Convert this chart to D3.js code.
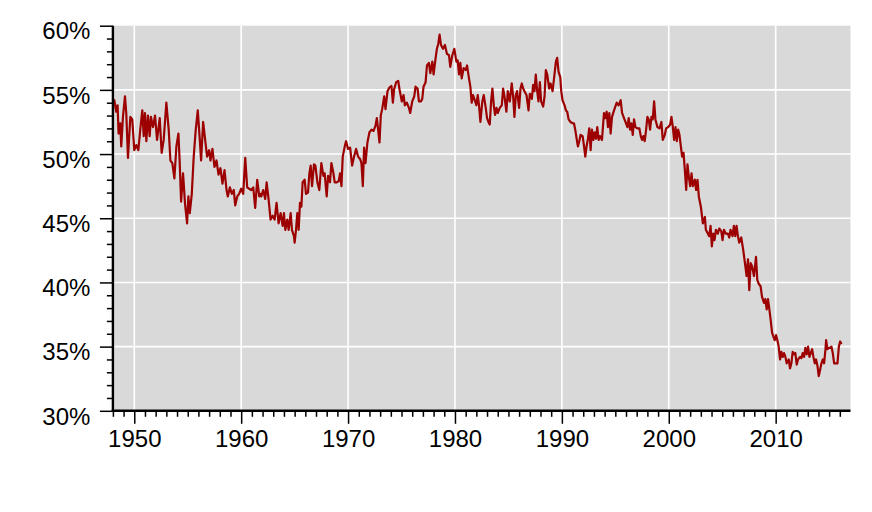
<!DOCTYPE html>
<html>
<head>
<meta charset="utf-8">
<script src="https://cdn.jsdelivr.net/npm/d3@7"></script>
<style>
  html, body { margin: 0; padding: 0; background: #ffffff; }
  svg { display: block; }
  text { font-family: "Liberation Sans", Arial, Helvetica, sans-serif; fill: #000; }
</style>
</head>
<body>
<svg id="chart" width="872" height="512"></svg>
<script>
// ---- data (decimal year, percent) ----
const years = [
1948.00,1948.13,1948.31,1948.44,1948.53,1948.69,1948.78,1948.94,1949.13,1949.25,1949.41,1949.63,1949.81,
1950.00,1950.19,1950.38,1950.56,1950.75,1950.88,1951.00,1951.13,1951.28,1951.44,1951.56,1951.75,1951.94,
1952.13,1952.38,1952.56,1952.75,1953.00,1953.22,1953.38,1953.56,1953.75,1953.94,1954.13,1954.25,1954.38,
1954.56,1954.75,1954.94,1955.06,1955.19,1955.38,1955.56,1955.75,1955.94,1956.13,1956.25,1956.44,1956.63,
1956.81,1957.00,1957.13,1957.31,1957.50,1957.69,1957.88,1958.06,1958.25,1958.44,1958.63,1958.75,1958.94,
1959.13,1959.31,1959.44,1959.63,1959.81,1960.00,1960.19,1960.38,1960.56,1960.75,1960.94,1961.13,1961.31,
1961.50,1961.69,1961.81,1961.88,1962.06,1962.25,1962.38,1962.56,1962.75,1962.94,1963.13,1963.31,1963.50,
1963.69,1963.88,1964.00,1964.13,1964.31,1964.44,1964.63,1964.75,1964.94,1965.00,1965.13,1965.25,1965.38,
1965.50,1965.63,1965.75,1965.94,1966.06,1966.25,1966.38,1966.50,1966.63,1966.81,1966.94,1967.13,1967.31,
1967.50,1967.69,1967.81,1968.00,1968.13,1968.31,1968.44,1968.63,1968.75,1968.94,1969.13,1969.25,1969.38,
1969.50,1969.69,1969.81,1970.00,1970.19,1970.38,1970.56,1970.75,1970.94,1971.13,1971.25,1971.38,1971.50,
1971.63,1971.81,1972.00,1972.19,1972.38,1972.56,1972.69,1972.81,1972.94,1973.06,1973.19,1973.38,1973.50,
1973.69,1973.88,1974.06,1974.19,1974.31,1974.50,1974.69,1974.81,1975.03,1975.19,1975.31,1975.50,1975.69,
1975.81,1976.00,1976.19,1976.31,1976.50,1976.63,1976.81,1976.94,1977.06,1977.25,1977.38,1977.56,1977.69,
1977.88,1978.00,1978.19,1978.31,1978.44,1978.56,1978.69,1978.88,1979.06,1979.25,1979.44,1979.56,1979.75,
1979.94,1980.13,1980.25,1980.38,1980.50,1980.63,1980.81,1981.00,1981.13,1981.31,1981.44,1981.56,1981.69,
1981.81,1982.00,1982.13,1982.25,1982.38,1982.56,1982.69,1982.88,1983.00,1983.13,1983.25,1983.38,1983.50,
1983.63,1983.75,1983.88,1984.00,1984.19,1984.38,1984.50,1984.63,1984.81,1984.94,1985.13,1985.31,1985.44,
1985.56,1985.69,1985.81,1986.00,1986.13,1986.25,1986.38,1986.50,1986.69,1986.88,1987.00,1987.19,1987.31,
1987.44,1987.56,1987.69,1987.81,1987.94,1988.06,1988.25,1988.38,1988.50,1988.63,1988.81,1988.94,1989.13,
1989.31,1989.44,1989.56,1989.69,1989.85,1989.94,1990.06,1990.25,1990.38,1990.50,1990.63,1990.81,1991.00,
1991.13,1991.25,1991.38,1991.50,1991.63,1991.75,1991.94,1992.06,1992.19,1992.31,1992.44,1992.56,1992.69,
1992.81,1992.94,1993.06,1993.19,1993.31,1993.44,1993.56,1993.75,1993.94,1994.06,1994.19,1994.31,1994.44,
1994.56,1994.69,1994.88,1995.00,1995.13,1995.31,1995.50,1995.63,1995.81,1996.00,1996.13,1996.25,1996.38,
1996.50,1996.63,1996.75,1996.88,1997.06,1997.25,1997.38,1997.50,1997.63,1997.75,1997.88,1998.00,1998.13,
1998.25,1998.38,1998.50,1998.63,1998.75,1998.94,1999.13,1999.31,1999.44,1999.63,1999.75,1999.94,2000.13,
2000.25,2000.38,2000.50,2000.63,2000.75,2000.88,2001.00,2001.13,2001.25,2001.38,2001.50,2001.63,2001.75,
2001.88,2002.00,2002.13,2002.25,2002.44,2002.56,2002.69,2002.81,2003.00,2003.19,2003.38,2003.47,2003.66,
2003.78,2003.91,2004.03,2004.16,2004.28,2004.41,2004.59,2004.72,2004.91,2005.03,2005.16,2005.34,2005.53,
2005.66,2005.78,2005.97,2006.09,2006.22,2006.34,2006.47,2006.59,2006.78,2006.97,2007.16,2007.28,2007.41,
2007.53,2007.66,2007.78,2007.97,2008.16,2008.28,2008.41,2008.59,2008.72,2008.91,2009.03,2009.16,2009.28,
2009.41,2009.53,2009.66,2009.78,2009.91,2010.03,2010.16,2010.28,2010.41,2010.53,2010.66,2010.78,2010.91,
2011.03,2011.22,2011.34,2011.47,2011.59,2011.72,2011.84,2011.97,2012.09,2012.28,2012.41,2012.53,2012.66,
2012.78,2012.91,2013.03,2013.16,2013.28,2013.41,2013.53,2013.66,2013.78,2013.91,2014.03,2014.16,2014.28,
2014.41,2014.53,2014.66,2014.72,2014.84,2014.97,2015.09,2015.22,2015.34,2015.47,2015.66,2015.78,2015.91,
2016.03,2016.16
];
const rates = [
54.0,54.2,53.3,53.8,51.6,52.4,50.6,52.9,54.5,53.2,49.7,52.9,52.7,
50.3,50.7,50.3,51.9,53.4,51.4,53.2,51.0,53.0,51.4,52.9,52.1,53.0,
51.1,52.8,50.1,51.1,54.0,51.9,49.5,49.3,48.1,50.6,51.6,49.3,46.3,
48.5,46.1,44.6,46.7,45.4,46.9,49.8,51.9,53.4,51.1,49.5,52.5,51.1,
49.8,50.3,49.5,50.4,49.0,49.5,48.4,48.9,47.7,48.75,47.2,46.7,47.4,
46.9,47.2,46.0,46.7,46.9,47.3,46.9,49.7,47.4,47.3,47.2,47.4,45.8,
48.0,46.7,46.9,46.7,47.2,46.5,47.8,46.5,44.9,45.2,44.9,46.2,44.6,
45.4,44.4,45.4,44.1,44.9,44.1,45.4,44.1,43.6,43.1,44.1,45.4,44.1,
46.2,45.9,47.8,48.0,46.9,47.0,48.5,49.1,47.5,49.2,49.1,47.8,47.2,
49.3,48.3,48.5,46.7,48.3,47.8,49.3,48.5,47.8,47.8,47.9,48.5,47.5,
49.8,50.6,51.0,50.4,50.5,49.1,49.8,50.4,49.8,49.6,49.3,47.5,50.5,
49.3,50.9,51.7,51.9,51.8,52.2,52.8,51.9,50.9,53.0,53.5,54.5,53.5,
54.9,55.2,55.3,54.0,55.05,55.6,55.7,55.05,54.1,54.6,53.8,54.0,53.6,
53.2,54.1,54.5,55.25,55.1,54.1,54.1,54.3,55.25,55.6,56.9,57.1,56.3,
57.2,56.2,57.5,58.2,58.6,59.3,58.5,58.2,58.5,57.8,57.7,56.8,57.7,
58.2,57.2,57.3,56.2,57.1,55.9,56.7,56.55,56.9,55.9,55.25,54.0,54.6,
54.3,53.8,54.6,53.8,52.5,54.1,54.6,53.6,52.8,52.5,52.3,54.1,55.1,
53.8,53.05,53.6,53.2,53.6,53.8,55.1,54.5,53.3,54.9,54.1,55.5,54.5,
52.9,54.6,54.9,53.6,55.1,55.5,55.1,54.9,54.6,53.4,54.7,54.3,55.4,
54.9,56.2,54.9,54.1,55.6,54.1,53.7,54.5,56.55,56.2,55.1,55.5,54.9,
56.2,57.2,57.5,56.4,56.0,54.9,54.2,53.8,53.4,53.3,52.7,52.5,52.4,
52.4,51.9,51.2,50.6,51.0,51.5,51.4,50.7,49.8,50.6,51.2,52.0,50.3,
51.9,51.1,51.7,51.2,52.1,51.1,51.4,51.1,53.2,52.8,53.3,52.1,53.2,
51.6,52.9,53.4,53.7,54.0,53.8,54.2,53.2,52.8,52.4,52.1,52.8,51.9,
52.4,51.5,52.7,52.1,52.0,52.0,51.4,51.1,51.4,51.0,51.9,52.9,52.7,
51.9,52.9,52.7,54.1,52.7,52.1,52.0,52.5,51.1,51.5,52.0,52.1,52.3,
52.9,52.1,51.1,52.1,51.0,51.9,51.5,50.6,49.8,50.1,48.8,47.2,49.2,
48.2,47.5,48.5,47.5,48.0,47.2,48.0,46.7,45.9,44.6,45.1,44.1,43.8,
43.6,44.4,42.8,43.8,43.3,44.1,43.8,44.2,44.0,43.3,44.1,43.8,43.8,
43.5,44.1,43.6,44.4,43.6,44.4,43.6,43.1,43.5,42.5,41.3,40.5,41.8,
39.4,41.5,41.3,40.5,42.0,40.2,39.9,39.7,38.9,38.4,38.7,37.9,38.7,
37.9,37.1,36.1,35.8,35.5,35.9,35.5,35.0,34.0,34.6,34.2,34.5,34.2,
33.7,34.0,33.3,33.7,34.6,34.4,34.5,33.6,34.0,34.2,34.1,34.5,34.2,
34.9,34.4,35.0,34.2,34.5,34.8,34.2,33.7,34.0,33.5,32.7,33.2,33.7,
34.0,33.7,34.8,35.5,34.8,34.9,34.9,35.0,34.5,33.7,33.7,33.7,35.0,
35.4,35.2
];
const xMajorTicks = [1950, 1960, 1970, 1980, 1990, 2000, 2010];
const yMajorTicks = [30, 35, 40, 45, 50, 55, 60];
const xDomain = [1948, 2017];
const yDomain = [30, 60];

// ---- drawing ----
const svg = d3.select("#chart");
const pLeft = 112.9, pRight = 850.5, pTop = 25.7, pBottom = 410.8;

const x = d3.scaleLinear().domain(xDomain).range([pLeft, pRight]);
const y = d3.scaleLinear().domain(yDomain).range([pBottom, pTop]);

// plot background
svg.append("rect")
  .attr("x", pLeft).attr("y", pTop)
  .attr("width", pRight - pLeft).attr("height", pBottom - pTop)
  .attr("fill", "#d9d9d9");

// gridlines
const grid = svg.append("g").attr("stroke", "#ffffff").attr("stroke-width", 1.6);
grid.selectAll("line.gx").data(xMajorTicks).join("line")
  .attr("x1", d => x(d)).attr("x2", d => x(d))
  .attr("y1", pTop).attr("y2", pBottom);
grid.selectAll("line.gy").data(yMajorTicks.filter(d => d > yDomain[0] && d < yDomain[1])).join("line")
  .attr("x1", pLeft).attr("x2", pRight)
  .attr("y1", d => y(d)).attr("y2", d => y(d));

// data line
const pts = years.map((yr, i) => [yr, rates[i]]);
svg.append("path")
  .datum(pts)
  .attr("fill", "none")
  .attr("stroke", "#9c0000")
  .attr("stroke-width", 2.2)
  .attr("stroke-linejoin", "round")
  .attr("d", d3.line().x(d => x(d[0])).y(d => y(d[1])));

// axes
const yMinor = d3.range(yDomain[0], yDomain[1] + 1, 1).filter(v => v % 5 !== 0);
const xMinor = d3.range(1948, 2017, 1).filter(v => v % 10 !== 0);

const yAxisMinor = d3.axisLeft(y).tickValues(yMinor).tickSize(6).tickFormat("");
const yAxisMajor = d3.axisLeft(y).tickValues(yMajorTicks).tickSize(13).tickFormat(d => d + "%");
const xAxisMinor = d3.axisBottom(x).tickValues(xMinor).tickSize(6).tickFormat("");
const xAxisMajor = d3.axisBottom(x).tickValues(xMajorTicks).tickSize(13).tickFormat(d3.format("d"));

function styleAxis(g) {
  g.select(".domain").remove();
  g.selectAll(".tick line").attr("stroke", "#000").attr("stroke-width", 1.5);
}

svg.append("g").attr("transform", `translate(${pLeft},0)`).call(yAxisMinor).call(styleAxis);
const ya = svg.append("g").attr("transform", `translate(${pLeft},0)`).call(yAxisMajor).call(styleAxis);
ya.attr("font-size", null);
ya.selectAll(".tick text")
  .attr("x", -22.5).attr("dy", null).attr("y", 13.2)
  .style("font-size", "24px")
  .style("font-family", "'Liberation Sans', Arial, sans-serif")
  .attr("fill", "#000");

svg.append("g").attr("transform", `translate(0,${pBottom})`).call(xAxisMinor).call(styleAxis);
const xa = svg.append("g").attr("transform", `translate(0,${pBottom})`).call(xAxisMajor).call(styleAxis);
xa.attr("font-size", null);
xa.selectAll(".tick text")
  .attr("y", 36.2).attr("dy", null)
  .style("font-size", "24px")
  .style("font-family", "'Liberation Sans', Arial, sans-serif")
  .attr("fill", "#000");

// axis lines
svg.append("line").attr("x1", pLeft).attr("x2", pLeft).attr("y1", pTop).attr("y2", pBottom + 1.2)
  .attr("stroke", "#000").attr("stroke-width", 2.4);
svg.append("line").attr("x1", pLeft - 1.2).attr("x2", pRight).attr("y1", pBottom).attr("y2", pBottom)
  .attr("stroke", "#000").attr("stroke-width", 2.4);
</script>
</body>
</html>
